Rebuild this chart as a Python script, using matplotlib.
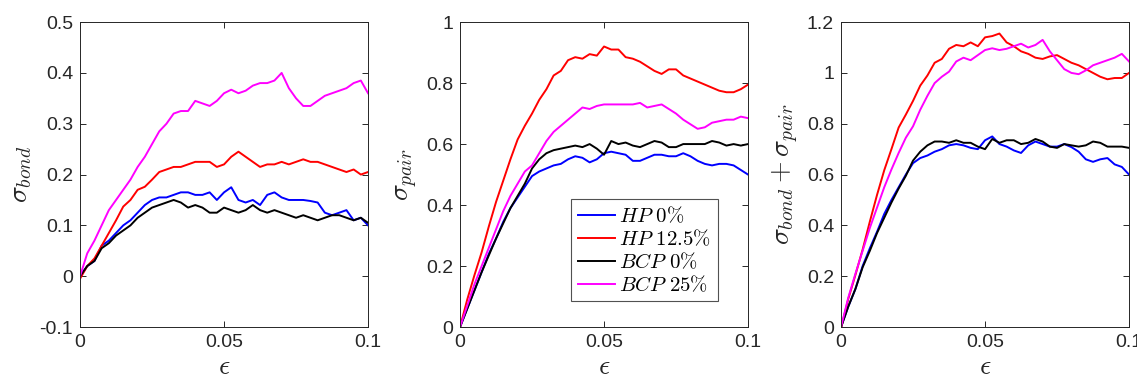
import numpy as np
import matplotlib
matplotlib.use('Agg')
import matplotlib.pyplot as plt
from matplotlib.ticker import FuncFormatter

# 字体设置 (MATLAB 风格)
plt.rcParams['font.family'] = ['Liberation Sans', 'DejaVu Sans']
plt.rcParams['mathtext.fontset'] = 'cm'
plt.rcParams['axes.unicode_minus'] = False

# 应变 (横轴采样点)
strain = np.linspace(0, 0.1, 41)

# sigma_bond
bond_hp0 = [0, 0.02, 0.03, 0.06, 0.07, 0.085, 0.1, 0.11, 0.125, 0.14, 0.15, 0.155, 0.155, 0.16,
            0.165, 0.165, 0.16, 0.16, 0.165, 0.15, 0.165, 0.175, 0.15, 0.145, 0.15, 0.14, 0.16,
            0.165, 0.155, 0.15, 0.15, 0.15, 0.148, 0.145, 0.125, 0.12, 0.125, 0.13, 0.11, 0.115, 0.10]
bond_hp125 = [-0.005, 0.02, 0.035, 0.06, 0.085, 0.11, 0.137, 0.15, 0.17, 0.176, 0.19, 0.205, 0.21,
              0.215, 0.215, 0.22, 0.225, 0.225, 0.225, 0.215, 0.22, 0.235, 0.245, 0.235, 0.225,
              0.215, 0.22, 0.22, 0.225, 0.22, 0.225, 0.23, 0.225, 0.225, 0.22, 0.215, 0.21, 0.205,
              0.21, 0.2, 0.205]
bond_bcp0 = [0, 0.02, 0.03, 0.055, 0.065, 0.08, 0.09, 0.1, 0.115, 0.125, 0.135, 0.14, 0.145, 0.15,
             0.145, 0.135, 0.14, 0.135, 0.125, 0.125, 0.135, 0.13, 0.125, 0.13, 0.14, 0.13, 0.125,
             0.13, 0.125, 0.12, 0.115, 0.12, 0.115, 0.11, 0.115, 0.12, 0.12, 0.115, 0.11, 0.115, 0.105]
bond_bcp25 = [0, 0.045, 0.07, 0.10, 0.13, 0.15, 0.17, 0.19, 0.215, 0.235, 0.26, 0.285, 0.30, 0.32,
              0.325, 0.325, 0.345, 0.34, 0.335, 0.345, 0.36, 0.367, 0.36, 0.365, 0.375, 0.38, 0.38,
              0.385, 0.40, 0.37, 0.35, 0.335, 0.335, 0.345, 0.355, 0.36, 0.365, 0.37, 0.38, 0.385, 0.36]

# sigma_pair
pair_hp0 = [0, 0.06, 0.12, 0.18, 0.24, 0.29, 0.345, 0.39, 0.425, 0.46, 0.495, 0.51, 0.52, 0.53,
            0.535, 0.55, 0.56, 0.555, 0.54, 0.55, 0.57, 0.575, 0.57, 0.565, 0.545, 0.545, 0.555,
            0.565, 0.565, 0.56, 0.56, 0.57, 0.56, 0.545, 0.535, 0.53, 0.535, 0.535, 0.53, 0.515, 0.50]
pair_hp125 = [0, 0.09, 0.17, 0.245, 0.33, 0.41, 0.48, 0.55, 0.615, 0.66, 0.70, 0.745, 0.78, 0.825,
              0.84, 0.875, 0.885, 0.88, 0.895, 0.89, 0.92, 0.91, 0.91, 0.885, 0.88, 0.87, 0.855,
              0.84, 0.83, 0.845, 0.845, 0.825, 0.815, 0.805, 0.795, 0.785, 0.775, 0.77, 0.77, 0.78, 0.795]
pair_bcp0 = [0, 0.06, 0.12, 0.18, 0.235, 0.29, 0.34, 0.39, 0.43, 0.47, 0.52, 0.55, 0.57, 0.58,
             0.585, 0.59, 0.595, 0.59, 0.6, 0.585, 0.565, 0.61, 0.6, 0.605, 0.595, 0.59, 0.6, 0.61,
             0.605, 0.59, 0.59, 0.6, 0.6, 0.6, 0.6, 0.61, 0.605, 0.595, 0.6, 0.595, 0.60]
pair_bcp25 = [0, 0.07, 0.14, 0.2, 0.26, 0.32, 0.38, 0.43, 0.47, 0.51, 0.53, 0.57, 0.61, 0.64, 0.66,
              0.68, 0.70, 0.72, 0.715, 0.725, 0.73, 0.73, 0.73, 0.73, 0.73, 0.735, 0.72, 0.725, 0.73,
              0.715, 0.70, 0.68, 0.665, 0.65, 0.655, 0.67, 0.675, 0.68, 0.68, 0.69, 0.685]

labels = [r'$HP\ \mathrm{0\%}$', r'$HP\ \mathrm{12.5\%}$', r'$BCP\ \mathrm{0\%}$', r'$BCP\ \mathrm{25\%}$']
colors = ['#0000ff', '#ff0000', '#000000', '#ff00ff']

bond = [bond_hp0, bond_hp125, bond_bcp0, bond_bcp25]
pair = [pair_hp0, pair_hp125, pair_bcp0, pair_bcp25]
total = [np.array(b) + np.array(p) for b, p in zip(bond, pair)]  # 两者之和

axis_col = '#262626'

fig = plt.figure(figsize=(11.37, 3.85), dpi=100)
lefts = [0.0704, 0.4046, 0.7397]
panels = [
    (bond, r'$\sigma_{bond}$', (-0.1, 0.5), np.arange(-0.1, 0.51, 0.1)),
    (pair, r'$\sigma_{pair}$', (0, 1), np.arange(0, 1.01, 0.2)),
    (total, r'$\sigma_{bond} + \sigma_{pair}$', (0, 1.2), np.arange(0, 1.21, 0.2)),
]

for i, (series, ylab, ylim, yt) in enumerate(panels):
    ax = fig.add_axes([lefts[i], 0.1506, 0.2533, 0.792])
    for s, c, lab in zip(series, colors, labels):
        ax.plot(strain, s, color=c, linewidth=1.4, label=lab)
    ax.set_xlim(0, 0.1)
    ax.set_ylim(*ylim)
    ax.set_xticks([0, 0.05, 0.1])
    ax.set_yticks(yt)
    fmt = FuncFormatter(lambda v, p: '%g' % round(v, 3))
    ax.xaxis.set_major_formatter(fmt)
    ax.yaxis.set_major_formatter(fmt)
    ax.tick_params(direction='in', top=True, right=True, length=4, width=0.7,
                   colors=axis_col, labelsize=14, pad=5)
    for sp in ax.spines.values():
        sp.set_color(axis_col)
        sp.set_linewidth(0.7)
    ax.set_xlabel(r'$\epsilon$', fontsize=20, color=axis_col, labelpad=2)
    ax.set_ylabel(ylab, fontsize=20, color=axis_col, labelpad=4)
    if i == 1:
        leg = ax.legend(loc='lower left', bbox_to_anchor=(0.387, 0.084), borderaxespad=0,
                        fontsize=15, fancybox=False, handlelength=1.8, handletextpad=0.2,
                        labelspacing=0.12, borderpad=0.3)
        leg.get_frame().set_edgecolor(axis_col)
        leg.get_frame().set_linewidth(0.8)

fig.savefig('out.png', dpi=100)
